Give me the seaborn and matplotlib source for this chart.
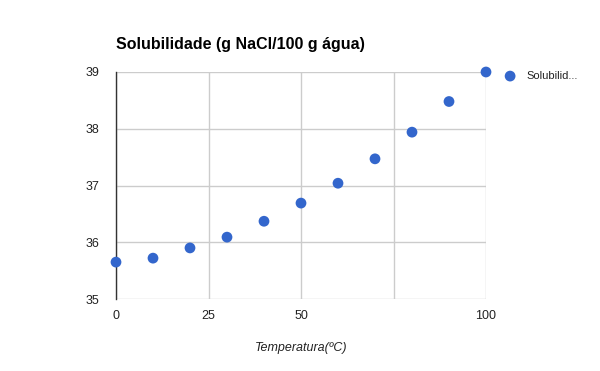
import matplotlib
matplotlib.use("Agg")
import matplotlib.pyplot as plt
import seaborn as sns
import pandas as pd

temperatura = [0, 10, 20, 30, 40, 50, 60, 70, 80, 90, 100]
solubilidade = [35.65, 35.72, 35.90, 36.09, 36.37, 36.69, 37.04, 37.47, 37.94, 38.48, 39.0]
xticks = [0, 25, 50, 75, 100]
xticklabels = ["0", "25", "50", "", "100"]
yticks = [35, 36, 37, 38, 39]

df = pd.DataFrame({"Temperatura(ºC)": temperatura, "Solubilidade": solubilidade})

sns.set_theme(style="white")
plt.rcParams['font.family'] = ['Arial', 'Liberation Sans', 'DejaVu Sans']

fig = plt.figure(figsize=(6, 3.71), dpi=100)
ax = fig.add_axes([116/600, 1-299/371, 370/600, 227/371])

sns.scatterplot(data=df, x="Temperatura(ºC)", y="Solubilidade", ax=ax,
                color="#3366cc", s=60, edgecolor="none", zorder=3, clip_on=False,
                label="Solubilid...")

ax.set_xlim(0, 100)
ax.set_ylim(35, 39)
ax.set_xticks(xticks)
ax.set_xticklabels(xticklabels)
ax.set_yticks(yticks)
ax.grid(True, color="#cccccc", linewidth=1)
ax.set_axisbelow(True)
for s in ["top", "right", "bottom"]:
    ax.spines[s].set_visible(False)
ax.spines["left"].set_color("#333333")
ax.spines["left"].set_linewidth(1)
ax.tick_params(axis="both", length=0, labelsize=9, colors="#222222", pad=8)
ax.tick_params(axis="y", pad=12)
ax.set_ylabel("")
ax.set_xlabel("Temperatura(ºC)", fontsize=9, style="italic", color="#222222", labelpad=14)

fig.text(116/600, 1-45/371, "Solubilidade (g NaCl/100 g água)", fontsize=11.5,
         fontweight="bold", color="#000000", va="center", ha="left")

leg = ax.legend(loc="center left", bbox_to_anchor=(1.0 + 3/370, 1 - 4/227), frameon=False,
                fontsize=8, handletextpad=0.5, markerscale=1.0, borderaxespad=0.5)
for t in leg.get_texts():
    t.set_color("#222222")

fig.savefig("out.png", dpi=100)
